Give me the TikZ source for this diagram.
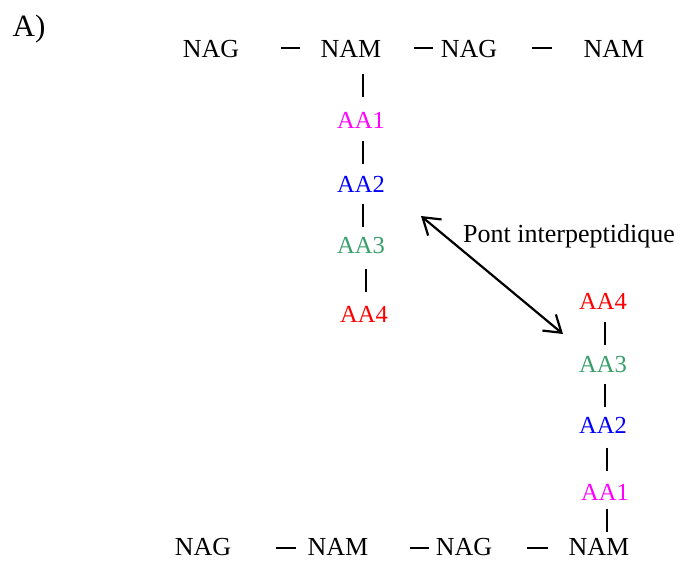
\documentclass[tikz,border=0pt]{standalone}
\usepackage{fontspec}
\setmainfont{Liberation Serif}
\usetikzlibrary{calc,arrows.meta}
\definecolor{aamagenta}{RGB}{255,0,255}
\definecolor{aablue}{RGB}{0,0,255}
\definecolor{aagreen}{RGB}{56,158,106}
\definecolor{aared}{RGB}{255,0,0}
\begin{document}
\begin{tikzpicture}[x=1pt,y=-1pt,
  sugar/.style={inner sep=0pt, text height=18pt, text depth=0pt,
    font=\fontsize{26}{31}\selectfont, anchor=base},
  aa/.style={sugar, font=\fontsize{24.5}{29}\selectfont},
  bond/.style={line width=1.8pt},
  % short vertical stroke centred in the gap between two stacked labels
  link/.style={line width=1.8pt, to path={let \p1=($(\tikztostart)!.5!(\tikztotarget)$),
    \p2=(\tikztostart) in (\x2+2pt,\y1+10pt) -- (\x2+2pt,\y1-13pt)}},
  bridge/.style={line width=2.2pt,
    {Straight Barb[length=16pt,width=21pt]}-{Straight Barb[length=16pt,width=21pt]}}]
\useasboundingbox (0,0) rectangle (682,560);

\node[sugar, font=\fontsize{31}{36}\selectfont] (panel) at (29,36) {A)};

% upper glycan strand
\node[sugar] (nag1) at (211,57) {NAG};
\node[sugar] (nam1) at (351,57) {NAM};
\node[sugar] (nag2) at (469,57) {NAG};
\node[sugar] (nam2) at (614,57) {NAM};

% lower glycan strand
\node[sugar] (nag3) at (203,555) {NAG};
\node[sugar] (nam3) at (338,555) {NAM};
\node[sugar] (nag4) at (464,555) {NAG};
\node[sugar] (nam4) at (599,555) {NAM};

% stem peptide hanging from the upper NAM
\node[aa, text=aamagenta] (aa1L) at (361,128) {AA1};
\node[aa, text=aablue]    (aa2L) at (361,192) {AA2};
\node[aa, text=aagreen]   (aa3L) at (361,253) {AA3};
\node[aa, text=aared]     (aa4L) at (364,322) {AA4};

% stem peptide rising from the lower NAM
\node[aa, text=aared]     (aa4R) at (603,309) {AA4};
\node[aa, text=aagreen]   (aa3R) at (603,372) {AA3};
\node[aa, text=aablue]    (aa2R) at (603,433) {AA2};
\node[aa, text=aamagenta] (aa1R) at (605,500) {AA1};

\node[sugar, anchor=base west] (bridgeLabel) at (463,242) {Pont interpeptidique};

% glycosidic bonds
\draw[bond, shorten <=41.8pt, shorten >=20.7pt] (nag1.east) -- (nam1.west);
\draw[bond, shorten <=32.7pt, shorten >=7.9pt]  (nam1.east) -- (nag2.west);
\draw[bond, shorten <=34.8pt, shorten >=31.7pt] (nag2.east) -- (nam2.west);
\draw[bond, shorten <=44.8pt, shorten >=11.7pt] ([yshift=-2pt]nag3.east) -- ([yshift=-2pt]nam3.west);
\draw[bond, shorten <=41.7pt, shorten >=6.9pt]  ([yshift=-2pt]nam3.east) -- ([yshift=-2pt]nag4.west);
\draw[bond, shorten <=34.8pt, shorten >=20.7pt] ([yshift=-2pt]nag4.east) -- ([yshift=-2pt]nam4.west);

% peptide bonds
\draw[link] (aa1L) to (nam1);
\draw[link] (aa2L) to (aa1L);
\draw[link] (aa3L) to (aa2L);
\draw[link] (aa4L) to (aa3L);
\draw[link] (aa3R) to (aa4R);
\draw[link] (aa2R) to (aa3R);
\draw[link] (aa1R) to (aa2R);
\draw[link] (aa1R) to (nam4);

% cross-link between the two stems
\coordinate (bridgeA) at (421,216);
\coordinate (bridgeB) at (563,334);
\draw[bridge] (bridgeA) -- (bridgeB);
\end{tikzpicture}
\end{document}
